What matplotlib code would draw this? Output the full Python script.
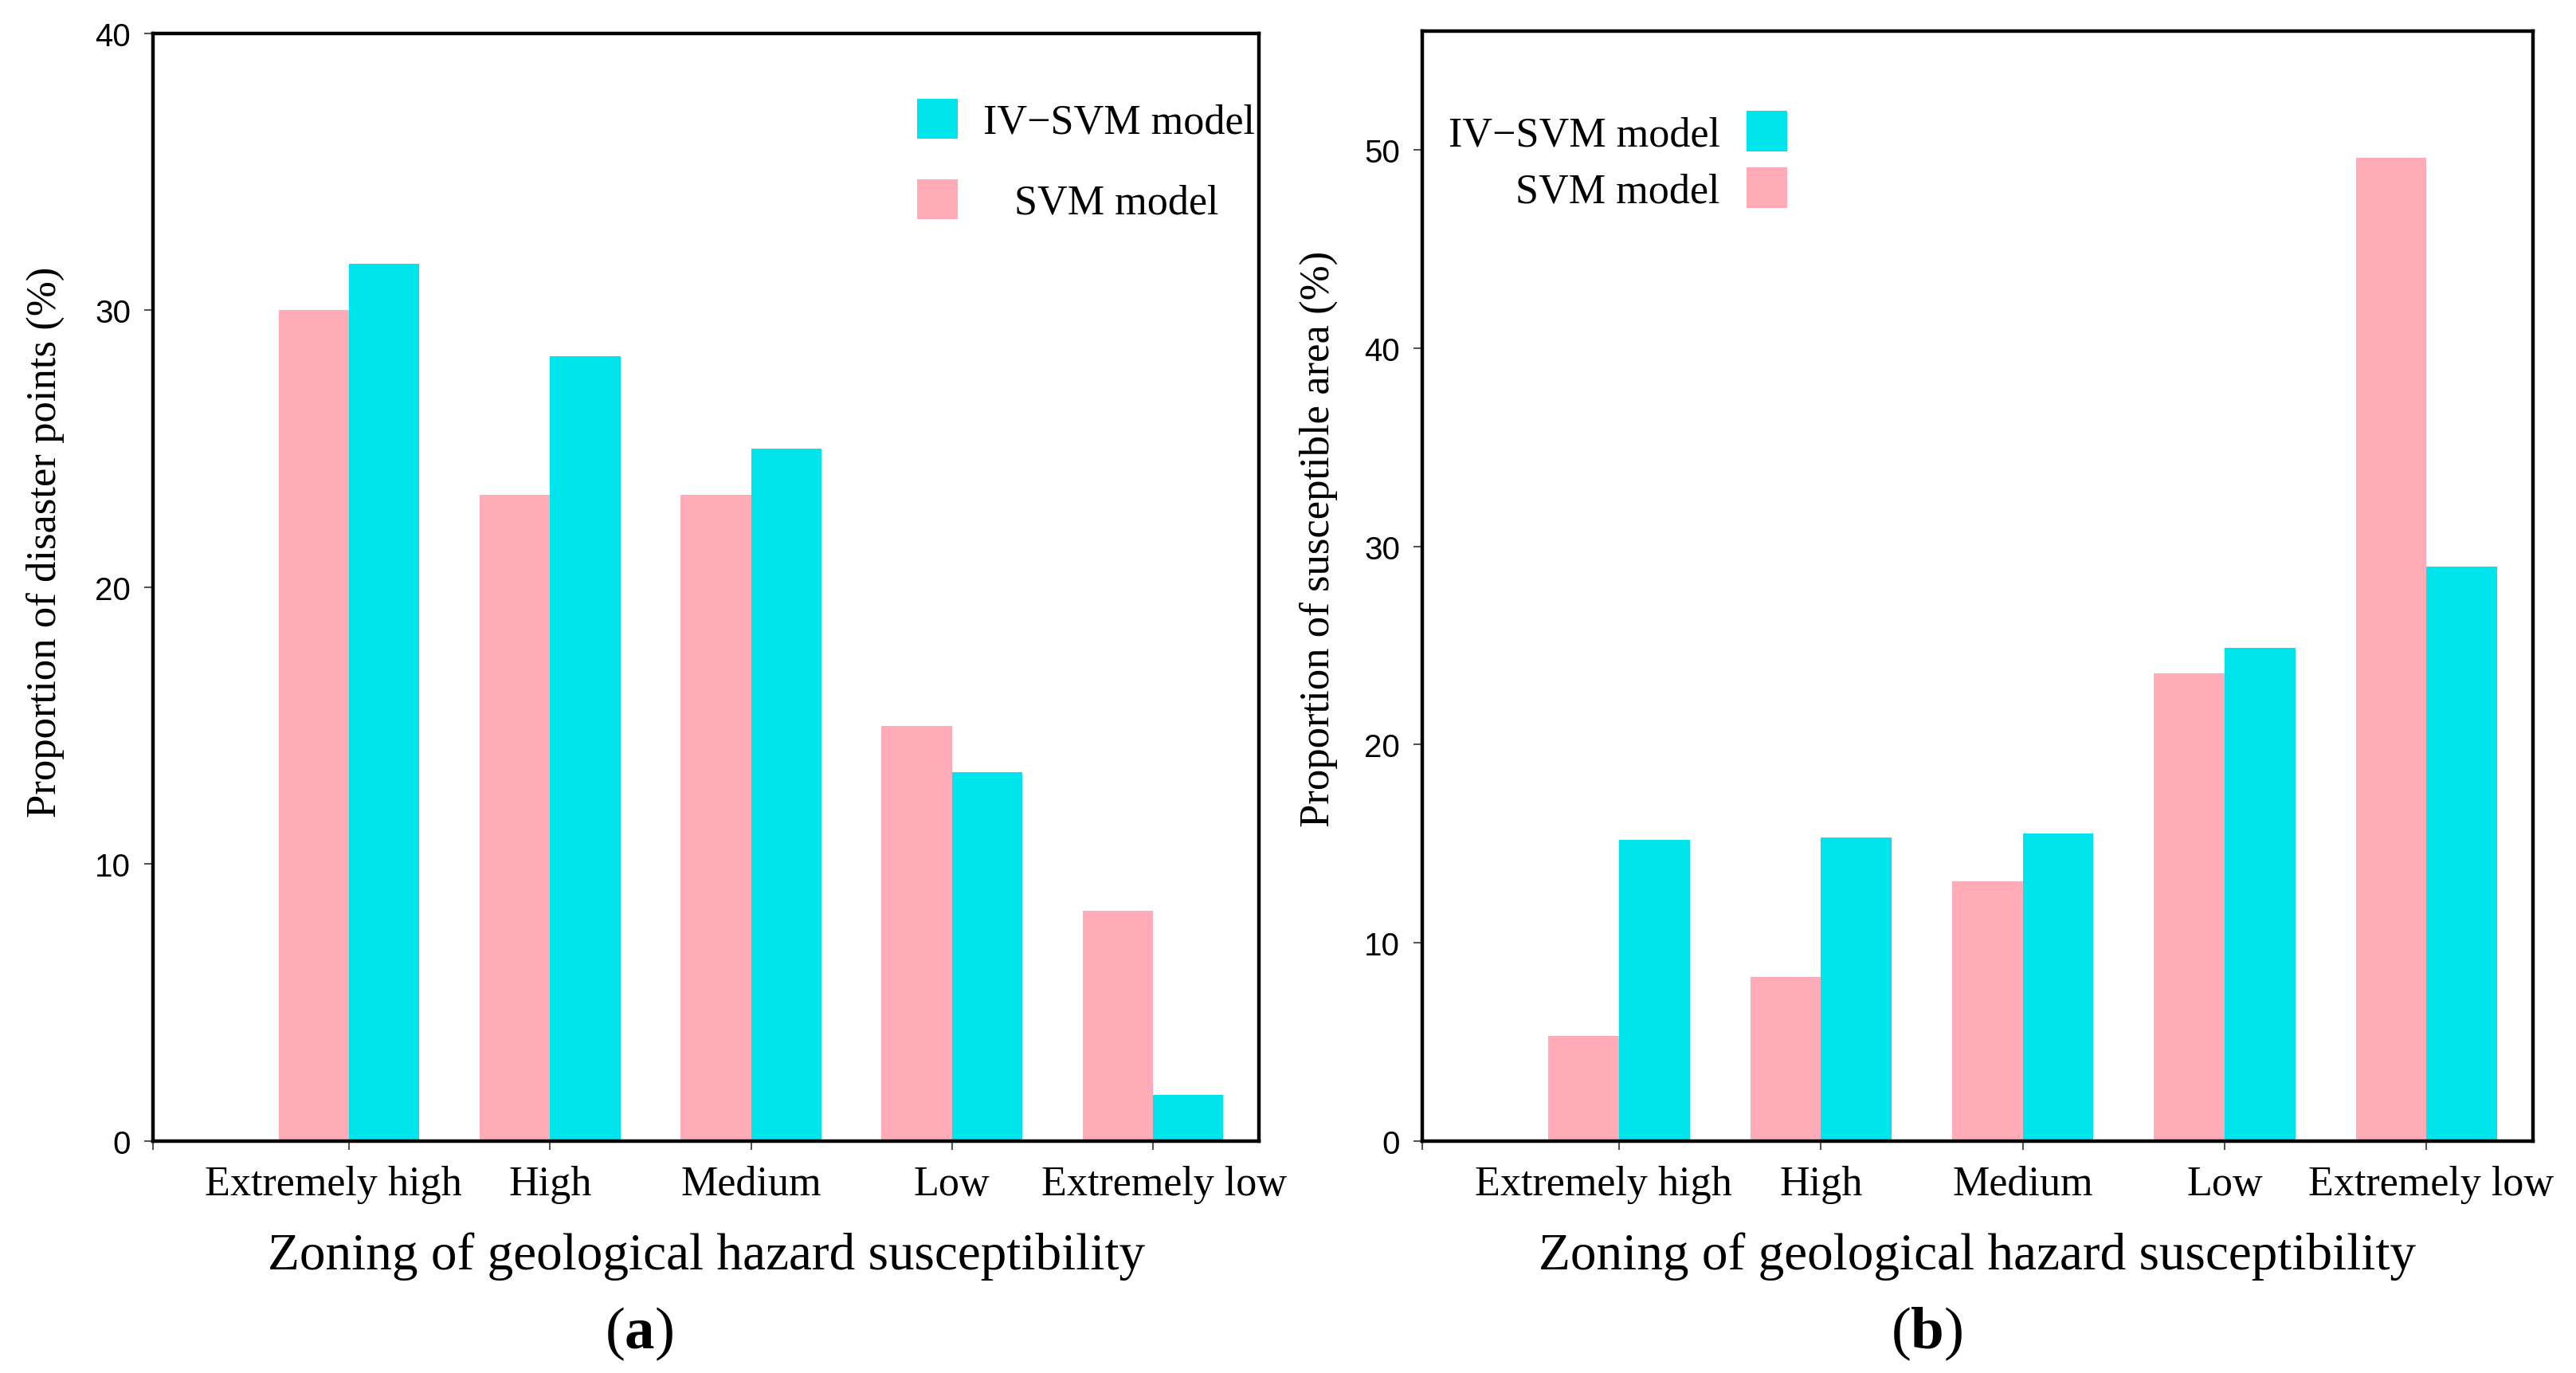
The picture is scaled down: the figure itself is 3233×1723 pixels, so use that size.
import matplotlib
matplotlib.use('Agg')
import matplotlib.pyplot as plt
from matplotlib.patches import Patch
from matplotlib.transforms import ScaledTranslation
import numpy as np

# ---------------- data ----------------
categories = ['Extremely high', 'High', 'Medium', 'Low', 'Extremely low']
svm_points = [30.0, 23.33, 23.33, 15.0, 8.33]
ivsvm_points = [31.67, 28.33, 25.0, 13.33, 1.67]
svm_area = [5.3, 8.3, 13.1, 23.6, 49.6]
ivsvm_area = [15.2, 15.3, 15.5, 24.9, 29.0]
yticks_a = [0, 10, 20, 30, 40]
yticks_b = [0, 10, 20, 30, 40, 50]
label_iv = 'IV\u2212SVM model'
label_svm = 'SVM model'
ylabel_a = 'Proportion of disaster points (%)'
ylabel_b = 'Proportion of susceptible area (%)'
xlabel = 'Zoning of geological hazard susceptibility'

PINK = '#FFABB8'
CYAN = '#00E5EC'
SERIF = 'Liberation Serif'
SANS = 'Liberation Sans'

plt.rcParams['mathtext.fontset'] = 'custom'
plt.rcParams['mathtext.rm'] = SERIF
plt.rcParams['mathtext.bf'] = SERIF + ':bold'

fig = plt.figure(figsize=(32.33, 17.24), dpi=100)
ax_a = fig.add_axes([0.0594, 0.1688, 0.4293, 0.8063])
ax_b = fig.add_axes([0.5521, 0.1688, 0.4312, 0.8080])

w = 0.35
x = np.arange(len(categories))
XLIM = (-0.975, 4.527)


def draw(ax, svm, iv, ylim, yticks, ylabel, ylab_xy, label_shifts):
    ax.bar(x - w / 2, svm, width=w, color=PINK, linewidth=0, zorder=2)
    ax.bar(x + w / 2, iv, width=w, color=CYAN, linewidth=0, zorder=2)
    ax.set_xlim(*XLIM)
    ax.set_ylim(*ylim)
    ax.set_xticks([XLIM[0]] + list(x))
    ax.set_xticklabels([''] + categories, fontfamily=SERIF, fontsize=37.5)
    ax.set_yticks(yticks)
    ax.set_yticklabels([str(t) for t in yticks], fontfamily=SANS, fontsize=29)
    ax.tick_params(axis='both', direction='out', length=8, width=1.5,
                   color='#555555')
    ax.tick_params(axis='x', pad=13.5)
    ax.tick_params(axis='y', pad=12)
    for s in ax.spines.values():
        s.set_linewidth(3.2)
        s.set_color('black')
        s.set_zorder(3)
    ax.set_ylabel(ylabel, fontfamily=SERIF, fontsize=38)
    ax.yaxis.set_label_coords(*ylab_xy)
    ax.set_xlabel(xlabel, fontfamily=SERIF, fontsize=47)
    ax.xaxis.set_label_coords(0.5, -0.0813)
    labels = ax.get_xticklabels()
    for i, dx in label_shifts.items():
        lab = labels[i + 1]
        lab.set_transform(lab.get_transform() +
                          ScaledTranslation(dx / 100.0, 0, fig.dpi_scale_trans))


draw(ax_a, svm_points, ivsvm_points, (0, 40), yticks_a, ylabel_a,
     (-0.080, 0.5417), {0: -20, 4: 14})
draw(ax_b, svm_area, ivsvm_area, (0, 56), yticks_b, ylabel_b,
     (-0.076, 0.5434), {0: -20, 4: 6})

h_iv = Patch(facecolor=CYAN, edgecolor='none')
h_svm = Patch(facecolor=PINK, edgecolor='none')

leg_a = ax_a.legend([h_iv, h_svm], [label_iv, '   ' + label_svm],
                    loc='upper right', bbox_to_anchor=(0.996, 0.941),
                    frameon=False, borderpad=0, borderaxespad=0,
                    handlelength=0.98, handleheight=1.11, handletextpad=0.61,
                    labelspacing=0.9,
                    prop={'family': SERIF, 'size': 37.5})

leg_b = ax_b.legend([h_iv, h_svm], [label_iv, label_svm],
                    loc='upper left', bbox_to_anchor=(0.0237, 0.928),
                    frameon=False, borderpad=0, borderaxespad=0,
                    markerfirst=False,
                    handlelength=0.98, handleheight=1.11, handletextpad=0.63,
                    labelspacing=0.33,
                    prop={'family': SERIF, 'size': 37.5})

fig.text(0.248, 0.0186, r'$\mathrm{(}\mathbf{a}\mathrm{)}$', fontsize=54,
         ha='center', va='baseline')
fig.text(0.748, 0.0186, r'$\mathrm{(}\mathbf{b}\mathrm{)}$', fontsize=54,
         ha='center', va='baseline')

fig.savefig('out.png', dpi=100, facecolor='white')
